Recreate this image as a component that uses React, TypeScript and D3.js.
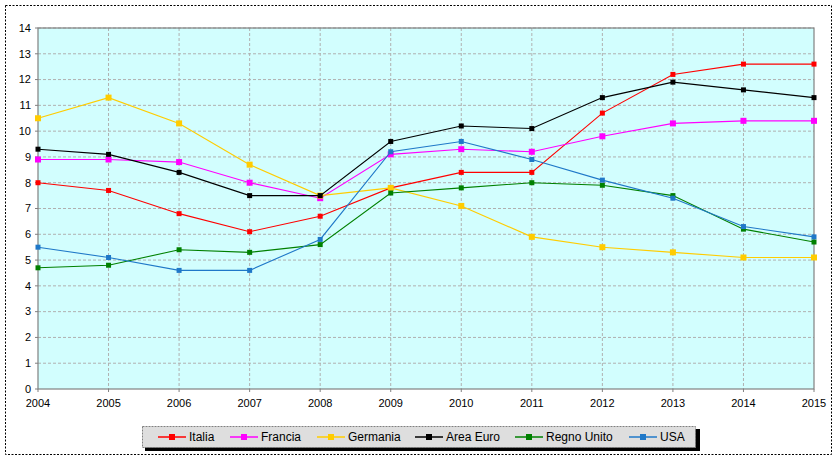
import React from 'react';
import * as d3 from 'd3';

const years = [2004, 2005, 2006, 2007, 2008, 2009, 2010, 2011, 2012, 2013, 2014, 2015];
const yTicks = [0, 1, 2, 3, 4, 5, 6, 7, 8, 9, 10, 11, 12, 13, 14];

const italia = [8.0, 7.7, 6.8, 6.1, 6.7, 7.8, 8.4, 8.4, 10.7, 12.2, 12.6, 12.6];
const francia = [8.9, 8.9, 8.8, 8.0, 7.4, 9.1, 9.3, 9.2, 9.8, 10.3, 10.4, 10.4];
const germania = [10.5, 11.3, 10.3, 8.7, 7.5, 7.8, 7.1, 5.9, 5.5, 5.3, 5.1, 5.1];
const areaEuro = [9.3, 9.1, 8.4, 7.5, 7.5, 9.6, 10.2, 10.1, 11.3, 11.9, 11.6, 11.3];
const regnoUnito = [4.7, 4.8, 5.4, 5.3, 5.6, 7.6, 7.8, 8.0, 7.9, 7.5, 6.2, 5.7];
const usa = [5.5, 5.1, 4.6, 4.6, 5.8, 9.2, 9.6, 8.9, 8.1, 7.4, 6.3, 5.9];

const seriesNames = ['Italia', 'Francia', 'Germania', 'Area Euro', 'Regno Unito', 'USA'];
const seriesValues = [italia, francia, germania, areaEuro, regnoUnito, usa];
const seriesColors = ['#ff0000', '#ff00ff', '#ffcc00', '#000000', '#008000', '#1f78c8'];
const markerSizes = [5, 6, 6, 5, 5, 5];

const W = 840;
const H = 462;
const plot = { left: 38, right: 814, top: 28, bottom: 389 };
const legendX = [158, 230, 317, 415, 515, 629];

const App = () => {
  const x = d3.scaleLinear().domain([2004, 2015]).range([plot.left, plot.right]);
  const y = d3.scaleLinear().domain([0, 14]).range([plot.bottom, plot.top]);
  const line = d3
    .line<number>()
    .x((_, i) => x(years[i]))
    .y((d) => y(d));

  return (
    <div style={{ position: 'absolute', left: 0, top: 0 }}>
      <svg width={W} height={H} style={{ display: 'block', fontFamily: 'Arial, "Liberation Sans", sans-serif' }}>
        <rect width={W} height={H} fill="#ffffff" />
        {/* outer frame */}
        <rect x={5.5} y={5.5} width={826} height={449} fill="none" stroke="#000" strokeWidth={1} strokeDasharray="2,1.5" />

        {/* plot area */}
        <rect x={plot.left} y={plot.top} width={plot.right - plot.left} height={plot.bottom - plot.top} fill="#d2fefe" />
        {yTicks.slice(1).map((t) => (
          <line key={'h' + t} x1={plot.left} x2={plot.right} y1={y(t)} y2={y(t)} stroke="#b0b0b0" strokeWidth={1} strokeDasharray="3,2" />
        ))}
        {years.slice(1, -1).map((yr) => (
          <line key={'v' + yr} x1={x(yr)} x2={x(yr)} y1={plot.top} y2={plot.bottom} stroke="#b0b0b0" strokeWidth={1} strokeDasharray="3,2" />
        ))}
        <rect x={plot.left} y={plot.top} width={plot.right - plot.left} height={plot.bottom - plot.top} fill="none" stroke="#808080" strokeWidth={1.2} />

        {/* axes ticks and labels */}
        {yTicks.map((t) => (
          <g key={'yl' + t}>
            <line x1={plot.left - 3} x2={plot.left} y1={y(t)} y2={y(t)} stroke="#808080" />
            <text x={31} y={y(t)} dy="0.35em" textAnchor="end" fontSize={11} fill="#000">
              {t}
            </text>
          </g>
        ))}
        {years.map((yr) => (
          <g key={'xl' + yr}>
            <line x1={x(yr)} x2={x(yr)} y1={plot.bottom} y2={plot.bottom + 3} stroke="#808080" />
            <text x={x(yr)} y={407} textAnchor="middle" fontSize={11} fill="#000">
              {yr}
            </text>
          </g>
        ))}

        {/* series */}
        {seriesValues.map((vals, si) => (
          <g key={seriesNames[si]}>
            <path d={line(vals) || ''} fill="none" stroke={seriesColors[si]} strokeWidth={1.1} />
            {vals.map((v, i) => (
              <rect
                key={i}
                x={x(years[i]) - markerSizes[si] / 2}
                y={y(v) - markerSizes[si] / 2}
                width={markerSizes[si]}
                height={markerSizes[si]}
                fill={seriesColors[si]}
              />
            ))}
          </g>
        ))}

        {/* legend */}
        <rect x={145} y={429} width={555} height={22} fill="#000" />
        <rect x={142.5} y={426.5} width={553} height={21} fill="#dedede" stroke="#808080" strokeDasharray="2,1" />
        {seriesNames.map((name, si) => (
          <g key={'lg' + name} transform={`translate(${legendX[si]},437)`}>
            <line x1={0} x2={28} y1={0} y2={0} stroke={seriesColors[si]} strokeWidth={1.5} />
            <rect x={11} y={-3} width={6} height={6} fill={seriesColors[si]} />
            <text x={31} y={0} dy="0.36em" fontSize={12} fill="#000">
              {name}
            </text>
          </g>
        ))}
      </svg>
    </div>
  );
};

export default App;
